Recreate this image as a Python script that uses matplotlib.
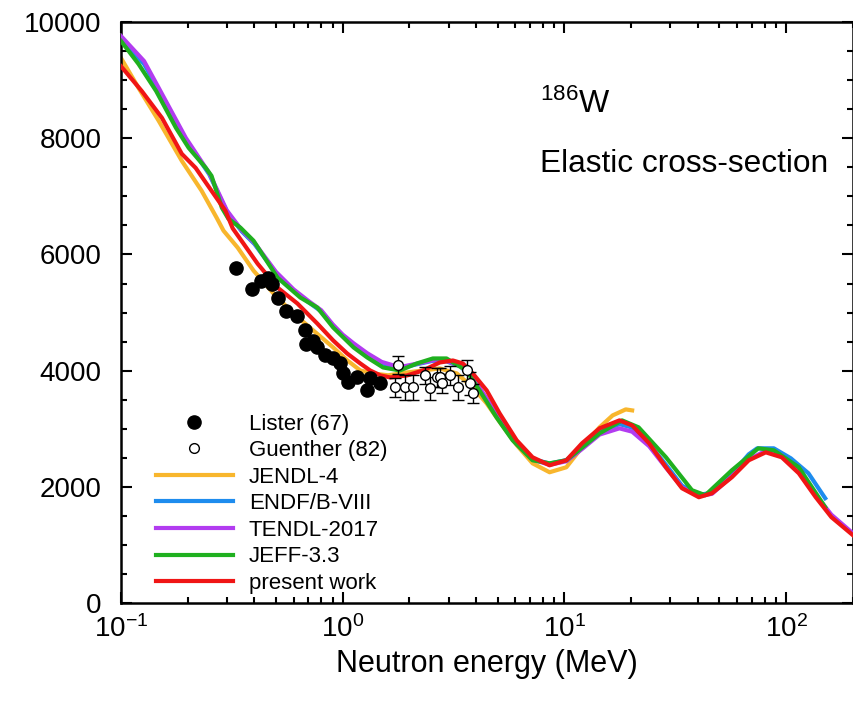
import numpy as np
import matplotlib
matplotlib.use("Agg")
from matplotlib import pyplot as plt
from matplotlib.lines import Line2D
from matplotlib.ticker import LogLocator, MultipleLocator

plt.rcParams['font.family'] = ['Liberation Sans', 'DejaVu Sans']
plt.rcParams['mathtext.fontset'] = 'custom'
plt.rcParams['mathtext.rm'] = 'Liberation Sans'
plt.rcParams['mathtext.it'] = 'Liberation Sans:italic'
plt.rcParams['mathtext.bf'] = 'Liberation Sans:bold'

# experimental data
lister_e = [0.329, 0.388, 0.426, 0.458, 0.482, 0.513, 0.557, 0.625, 0.678, 0.686, 0.737,
            0.768, 0.835, 0.906, 0.974, 1.005, 1.06, 1.16, 1.29, 1.33, 1.48]
lister_s = [5773, 5412, 5550, 5601, 5498, 5258, 5034, 4948, 4708, 4467, 4519,
            4399, 4261, 4210, 4124, 3952, 3797, 3883, 3660, 3866, 3780]

guenther_e = [1.72, 1.78, 1.91, 2.08, 2.35, 2.47, 2.65, 2.74, 2.80, 3.04, 3.31, 3.62, 3.74, 3.86]
guenther_s = [3711, 4100, 3711, 3711, 3918, 3694, 3883, 3883, 3780, 3918, 3711, 4003, 3780, 3608]
guenther_err = [160, 150, 220, 220, 150, 200, 160, 160, 160, 170, 220, 180, 200, 170]

# evaluated libraries
jendl_e = [0.1, 0.12, 0.148, 0.188, 0.231, 0.270, 0.290, 0.336, 0.396, 0.488, 0.600, 0.737,
           0.906, 1.05, 1.20, 1.37, 1.6, 1.95, 2.30, 2.74, 3.27, 3.86, 4.46, 5.10, 6.09,
           7.18, 8.57, 10.2, 12.0, 14.4, 16.5, 18.9, 20.2]
jendl_s = [9381, 8866, 8299, 7612, 7096, 6632, 6409, 6117, 5722, 5326, 4983, 4691,
           4399, 4175, 4003, 3952, 3920, 3969, 4003, 4038, 3952, 3711, 3436, 3120, 2720,
           2405, 2251, 2337, 2680, 3024, 3230, 3333, 3316]

endf_e = [0.1, 0.127, 0.148, 0.196, 0.25, 0.30, 0.35, 0.40, 0.5, 0.6, 0.7, 0.8, 0.9, 1.0,
          1.12, 1.29, 1.5, 1.8, 2.16, 2.55, 2.94, 3.4, 3.86, 4.46, 5.1, 6.09, 7.18, 8.57,
          10.2, 12.0, 14.4, 17.7, 20.2, 24.1, 28.7, 33.9, 40.4, 46.3, 56.9, 67.8, 74, 88,
          105, 126, 150]
endf_s = [9700, 9280, 8830, 7980, 7380, 6740, 6400, 6180, 5680, 5380, 5180, 5020, 4780, 4600,
          4450, 4280, 4130, 4040, 4110, 4170, 4160, 4070, 3870, 3500, 3140, 2740, 2480, 2400,
          2460, 2680, 2940, 3080, 3020, 2740, 2380, 2020, 1860, 1900, 2220, 2560, 2663, 2663,
          2491, 2234, 1804]

tendl_e = [0.1, 0.127, 0.148, 0.196, 0.25, 0.30, 0.35, 0.40, 0.5, 0.6, 0.7, 0.8, 0.9, 1.0,
           1.12, 1.29, 1.5, 1.8, 2.16, 2.55, 2.94, 3.4, 3.86, 4.46, 5.1, 6.09, 7.18, 8.57,
           10.2, 12.0, 14.4, 17.7, 20.2, 24.1, 28.7, 33.9, 40.4, 46.3, 56.9, 67.8, 80.9,
           95.5, 114, 136, 160, 200]
tendl_s = [9760, 9330, 8866, 8007, 7400, 6760, 6420, 6200, 5700, 5400, 5200, 5040, 4800, 4620,
           4470, 4300, 4150, 4060, 4120, 4180, 4170, 4080, 3880, 3520, 3150, 2740, 2470, 2380,
           2440, 2650, 2900, 3007, 2950, 2700, 2330, 1990, 1840, 1880, 2180, 2470, 2620,
           2540, 2260, 1860, 1520, 1200]

jeff_e = [0.1, 0.120, 0.144, 0.177, 0.202, 0.241, 0.256, 0.285, 0.305, 0.346, 0.396, 0.508,
          0.644, 0.768, 0.906, 1.12, 1.29, 1.52, 1.81, 2.16, 2.55, 2.94, 3.14, 3.62, 4.14,
          4.94, 5.84, 7.18, 8.57, 10.2, 14.4, 18.2, 21.6, 28.7, 37.6, 43.2, 56.9, 74.9, 88,
          114, 150]
jeff_s = [9674, 9278, 8814, 8179, 7835, 7491, 7354, 6804, 6615, 6460, 6237, 5601,
          5258, 5086, 4742, 4399, 4227, 4055, 4003, 4124, 4210, 4210, 4141, 4003, 3660,
          3196, 2801, 2457, 2405, 2457, 2921, 3144, 3024, 2509, 1942, 1856, 2285, 2663, 2629,
          2337, 1650]

present_e = [0.1, 0.124, 0.153, 0.188, 0.217, 0.256, 0.296, 0.319, 0.357, 0.413, 0.508, 0.625,
             0.768, 0.906, 1.047, 1.2, 1.33, 1.48, 1.64, 1.95, 2.30, 2.74, 3.14, 3.48, 3.86,
             4.46, 5.10, 6.09, 7.18, 8.57, 10.2, 12.0, 14.4, 17.7, 20.2, 24.1, 28.7, 33.9,
             40.4, 46.3, 56.9, 67.8, 80.9, 95.5, 114, 136, 160, 200]
present_s = [9240, 8814, 8351, 7732, 7491, 7096, 6750, 6450, 6186, 5842, 5430, 5155,
             4811, 4519, 4296, 4124, 4003, 3918, 3883, 3918, 4003, 4141, 4175, 4124, 3952,
             3660, 3265, 2801, 2509, 2371, 2457, 2749, 3007, 3144, 3058, 2749, 2337, 1976,
             1821, 1890, 2165, 2457, 2594, 2509, 2234, 1821, 1478, 1168]

fig = plt.figure(figsize=(8.54, 7.02), dpi=100)
ax = fig.add_axes([0.1417, 0.141, 0.857, 0.8275])

lw = 3.0
l1, = ax.plot(jendl_e, jendl_s, color='#f8b62d', lw=lw, label='JENDL-4', zorder=2)
l2, = ax.plot(endf_e, endf_s, color='#1e8cee', lw=lw, label='ENDF/B-VIII', zorder=3)
l3, = ax.plot(tendl_e, tendl_s, color='#b23cf0', lw=lw, label='TENDL-2017', zorder=4)
l4, = ax.plot(jeff_e, jeff_s, color='#1fb01f', lw=lw, label='JEFF-3.3', zorder=5)
l5, = ax.plot(present_e, present_s, color='#f01515', lw=lw, label='present work', zorder=6)

p1, = ax.plot(lister_e, lister_s, 'o', color='black', ms=9.5, ls='none',
              label='Lister (67)', zorder=7)
ax.errorbar(guenther_e, guenther_s, yerr=guenther_err, fmt='o', mfc='white',
            mec='black', ecolor='black', ms=7, mew=1.0, elinewidth=1.0,
            capsize=4, capthick=1.0, zorder=8)
# legend entry for the open circles without the error bar
p2 = Line2D([], [], marker='o', ls='none', mfc='white', mec='black', ms=7, mew=1.0,
            label='Guenther (82)')

ax.set_xscale('log')
ax.set_xlim(0.1, 200)
ax.set_ylim(0, 10000)
ax.yaxis.set_major_locator(MultipleLocator(2000))
ax.yaxis.set_minor_locator(MultipleLocator(500))
ax.xaxis.set_major_locator(LogLocator(base=10))
ax.xaxis.set_minor_locator(LogLocator(base=10, subs=np.arange(2, 10)))

ax.tick_params(which='both', direction='in', top=True, right=True, width=1.5)
ax.tick_params(which='major', length=8, labelsize=20, pad=14)
ax.tick_params(axis='x', which='major', pad=9)
ax.tick_params(which='minor', length=4.5)
for s in ax.spines.values():
    s.set_linewidth(1.8)

ax.set_xlabel('Neutron energy (MeV)', fontsize=22, labelpad=4)

ax.text(0.573, 0.843, r'$^{186}$W', transform=ax.transAxes, fontsize=23, va='baseline')
ax.text(0.573, 0.742, 'Elastic cross-section', transform=ax.transAxes, fontsize=22.8,
        va='baseline')

ax.legend(handles=[p1, p2, l1, l2, l3, l4, l5], loc='lower left',
          bbox_to_anchor=(0.026, -0.011), frameon=False, fontsize=16,
          handlelength=3.5, handletextpad=0.7, labelspacing=0.25, borderpad=0.2)

plt.savefig('out.png', dpi=100)
